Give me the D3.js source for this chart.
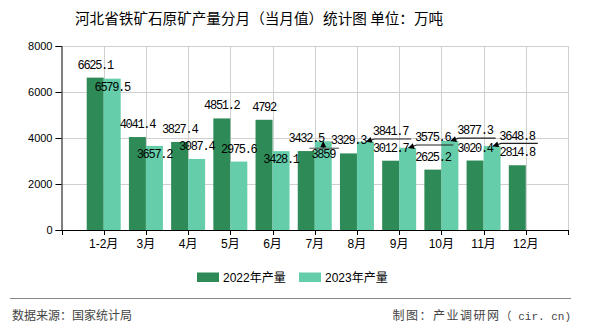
<!DOCTYPE html>
<html><head><meta charset="utf-8">
<script src="https://cdn.jsdelivr.net/npm/d3@7/dist/d3.min.js"></script>
<style>
html,body{margin:0;padding:0;background:#fff;}
svg{display:block;}
</style></head>
<body>
<svg id="chart" width="590" height="330"></svg>
<script>
const titleText = "河北省铁矿石原矿产量分月（当月值）统计图 单位：万吨";
const categories = ["1-2月","3月","4月","5月","6月","7月","8月","9月","10月","11月","12月"];
const values2022 = [6625.1,4041.4,3827.4,4851.2,4792,3432.5,3329.3,3012.7,2625.2,3020.4,2814.8];
const values2023 = [6579.5,3657.2,3087.4,2975.6,3428.1,3859,3841.7,3575.6,3877.3,3648.8,null];
const yTicks = [0,2000,4000,6000,8000];
const seriesNames = ["2022年产量","2023年产量"];
const seriesColors = ["#2e8b57","#66cdaa"];
const sourceText = "数据来源：国家统计局";
const creditMain = "制图：产业调研网";
const creditSite = "（ cir. cn)";

(function () {
const svg = d3.select("#chart");
const pLeft = 61.5, pRight = 568, pTop = 46, pBottom = 230;
const slot = (pRight - pLeft) / 12;

const x = d3.scaleBand().domain(categories)
  .range([pLeft + slot/2, pRight - slot/2]).padding(0);
const y = d3.scaleLinear().domain([0, 8000]).range([pBottom, pTop]);
const barW = 17;
const cx = c => x(c) + x.bandwidth()/2;

// title
svg.append("text").attr("x", 75).attr("y", 24)
  .attr("font-family", "'Noto Sans CJK SC', sans-serif").attr("font-size", 14.6)
  .attr("fill", "#000").text(titleText);

// grid
const grid = svg.append("g").attr("stroke", "#d0d0d0").attr("stroke-width", 1);
yTicks.filter(t => t > 0).forEach(t => {
  grid.append("line").attr("x1", pLeft).attr("x2", pRight)
    .attr("y1", Math.round(y(t)) + 0.5).attr("y2", Math.round(y(t)) + 0.5);
});
const vlines = categories.map(cx).concat([pRight]);
vlines.forEach(v => {
  grid.append("line").attr("x1", Math.round(v) + 0.5).attr("x2", Math.round(v) + 0.5)
    .attr("y1", pTop).attr("y2", pBottom);
});

// bars
const gBars = svg.append("g");
[values2022, values2023].forEach((vals, si) => {
  gBars.selectAll(null).data(categories.map((c, i) => ({c, v: vals[i]})).filter(d => d.v != null))
    .enter().append("rect")
    .attr("x", d => cx(d.c) + (si === 0 ? -barW : 0))
    .attr("y", d => y(d.v))
    .attr("width", barW)
    .attr("height", d => y(0) - y(d.v))
    .attr("fill", seriesColors[si]);
});

// axes
const yAxis = d3.axisLeft(y).tickValues(yTicks).tickSize(6).tickPadding(3).tickFormat(d3.format("d"));
const gy = svg.append("g").attr("transform", `translate(${pLeft},0)`).call(yAxis);
gy.selectAll("text").attr("font-family", "'Liberation Sans', Arial, sans-serif").attr("font-size", 11).attr("fill", "#000");
gy.selectAll("line,path").attr("stroke", "#000");

const xAxisScale = d3.scaleLinear().domain([0, 12]).range([pLeft, pRight]);
const gx = svg.append("g").attr("transform", `translate(0,${pBottom})`);
gx.append("line").attr("x1", pLeft).attr("x2", pRight).attr("y1", 0.5).attr("y2", 0.5).attr("stroke", "#000");
d3.range(0, 13).forEach(k => {
  const px = Math.round(xAxisScale(k)) + 0.5;
  gx.append("line").attr("x1", px).attr("x2", px).attr("y1", 0).attr("y2", 5).attr("stroke", "#000");
});
gx.selectAll("text.xl").data(categories).enter().append("text")
  .attr("class", "xl")
  .attr("x", d => cx(d)).attr("y", 18)
  .attr("text-anchor", "middle")
  .attr("font-family", "'Liberation Sans', 'Noto Sans CJK SC', sans-serif")
  .attr("font-size", 12).attr("fill", "#000").text(d => d);

// value labels
const lblFont = "'Liberation Mono', 'DejaVu Sans Mono', monospace";
const fs = 12, ls = -1.3;
const gL = svg.append("g").attr("font-family", lblFont).attr("font-size", fs)
  .attr("letter-spacing", ls + "px").attr("fill", "#000");
const charW = fs * 0.6 + ls;

svg.append("defs").append("marker").attr("id", "arr")
  .attr("viewBox", "0 0 10 10").attr("refX", 9).attr("refY", 5)
  .attr("markerWidth", 8).attr("markerHeight", 6).attr("markerUnits", "userSpaceOnUse")
  .attr("orient", "auto")
  .append("path").attr("d", "M0,0 L10,5 L0,10 Z").attr("fill", "#000");

const below2023 = new Set([0, 1, 4]);
const underArrow2023 = new Set([5]);
const rightArrow2023 = new Set([6, 7, 8, 9]);

categories.forEach((c, i) => {
  const v = values2022[i];
  gL.append("text").attr("x", cx(c) - barW/2).attr("y", y(v) - 9)
    .attr("text-anchor", "middle").text(String(v));
});
categories.forEach((c, i) => {
  const v = values2023[i];
  if (v == null) return;
  const bx = cx(c) + barW/2, by = y(v);
  const s = String(v);
  const tw = s.length * charW;
  if (below2023.has(i)) {
    gL.append("text").attr("x", bx).attr("y", by + 12).attr("text-anchor", "middle").text(s);
  } else if (underArrow2023.has(i)) {
    gL.append("text").attr("x", bx).attr("y", by + 17).attr("text-anchor", "middle").text(s);
    const ly = by + 7;
    svg.append("line").attr("x1", bx - tw/2 - 2).attr("x2", bx + tw/2 + 4)
      .attr("y1", ly).attr("y2", ly).attr("stroke", "#666").attr("stroke-width", 1.2);
    svg.append("line").attr("x1", bx).attr("x2", bx).attr("y1", ly).attr("y2", by + 0.5)
      .attr("stroke", "#000").attr("marker-end", "url(#arr)");
  } else if (rightArrow2023.has(i)) {
    const tx = bx + 25;
    gL.append("text").attr("x", tx).attr("y", by - 6.5).attr("text-anchor", "middle").text(s);
    const ly = by - 2.7;
    svg.append("path")
      .attr("d", `M${tx + tw/2 + 3},${ly} L${bx + 9},${ly} L${bx + 1},${by}`)
      .attr("fill", "none").attr("stroke", "#222").attr("stroke-width", 1.1)
      .attr("marker-end", "url(#arr)");
  } else {
    gL.append("text").attr("x", bx).attr("y", by - 9).attr("text-anchor", "middle").text(s);
  }
});

// legend
const legX = [197, 299];
seriesNames.forEach((n, i) => {
  svg.append("rect").attr("x", legX[i]).attr("y", 272.5).attr("width", 22).attr("height", 9.5)
    .attr("fill", seriesColors[i]);
  svg.append("text").attr("x", legX[i] + 26).attr("y", 282)
    .attr("font-family", "'Liberation Sans', 'Noto Sans CJK SC', sans-serif")
    .attr("font-size", 12).attr("fill", "#000").text(n);
});

// footer
svg.append("line").attr("x1", 10).attr("x2", 571).attr("y1", 298.5).attr("y2", 298.5)
  .attr("stroke", "#888").attr("stroke-width", 1);
svg.append("text").attr("x", 12).attr("y", 320)
  .attr("font-family", "'Noto Sans CJK SC', sans-serif").attr("font-size", 12)
  .attr("fill", "#444").text(sourceText);
const credit = svg.append("text").attr("x", 571).attr("y", 320).attr("text-anchor", "end")
  .attr("font-size", 12).attr("fill", "#444");
credit.append("tspan").attr("font-family", "'Noto Sans CJK SC', sans-serif").attr("letter-spacing", "1.5px").text(creditMain);
credit.append("tspan").attr("font-family", "'Liberation Mono', 'Noto Sans CJK SC', monospace").attr("font-size", 11).text(creditSite);
})();
</script>
</body></html>
